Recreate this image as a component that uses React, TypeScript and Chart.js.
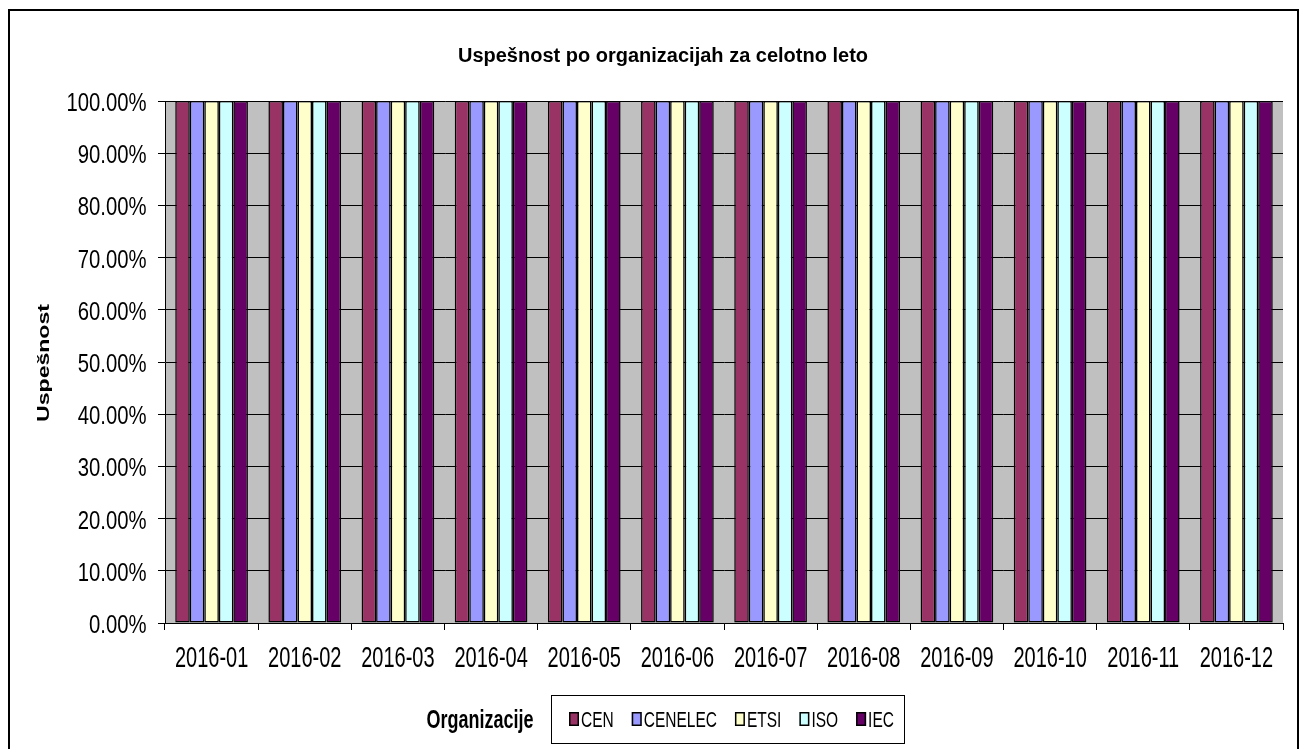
import React, { useEffect, useRef } from "react";
import { Chart, registerables } from "chart.js";

Chart.register(...registerables);

// ---- data ----
const months = [
  "2016-01", "2016-02", "2016-03", "2016-04", "2016-05", "2016-06",
  "2016-07", "2016-08", "2016-09", "2016-10", "2016-11", "2016-12",
];
const organizations = ["CEN", "CENELEC", "ETSI", "ISO", "IEC"];
const cenValues = [100, 100, 100, 100, 100, 100, 100, 100, 100, 100, 100, 100];
const cenelecValues = [100, 100, 100, 100, 100, 100, 100, 100, 100, 100, 100, 100];
const etsiValues = [100, 100, 100, 100, 100, 100, 100, 100, 100, 100, 100, 100];
const isoValues = [100, 100, 100, 100, 100, 100, 100, 100, 100, 100, 100, 100];
const iecValues = [100, 100, 100, 100, 100, 100, 100, 100, 100, 100, 100, 100];
const seriesColors = ["#993366", "#9999FF", "#FFFFCC", "#CCFFFF", "#660066"];
const yTickValues = [0, 10, 20, 30, 40, 50, 60, 70, 80, 90, 100];

const chartTitle = "Uspešnost po organizacijah za celotno leto";
const yAxisTitle = "Uspešnost";
const xAxisTitle = "Organizacije";

const SANS = '"Liberation Sans", Arial, sans-serif';

const formatPercent = (v: number) => `${Number(v).toFixed(2)}%`;

function drawStretched(
  ctx: CanvasRenderingContext2D,
  text: string,
  x: number,
  y: number,
  font: string,
  sy: number,
  align: CanvasTextAlign,
  baseline: CanvasTextBaseline,
  rotate = 0
) {
  ctx.save();
  ctx.translate(x, y);
  ctx.scale(1, sy);
  if (rotate) ctx.rotate(rotate);
  ctx.font = font;
  ctx.fillStyle = "#000";
  ctx.textAlign = align;
  ctx.textBaseline = baseline;
  ctx.fillText(text, 0, 0);
  ctx.restore();
}

const excelDecor = {
  id: "excelDecor",
  beforeDraw(chart: any) {
    const { ctx, chartArea } = chart;
    ctx.save();
    ctx.fillStyle = "#FFFFFF";
    ctx.fillRect(0, 0, chart.width, chart.height);
    ctx.fillStyle = "#C0C0C0";
    ctx.fillRect(chartArea.left, chartArea.top, chartArea.right - chartArea.left, chartArea.bottom - chartArea.top);
    ctx.restore();
  },
  afterDraw(chart: any) {
    const { ctx, chartArea } = chart;
    const xScale = chart.scales.x;
    const yScale = chart.scales.y;

    // x tick labels (from the category scale)
    xScale.ticks.forEach((t: any, i: number) => {
      const label = chart.data.labels[t.value] ?? t.label;
      const px = xScale.getPixelForTick(i);
      drawStretched(ctx, String(label), px, chartArea.bottom + 43.5, `20px ${SANS}`, 1.44, "center", "alphabetic");
    });
    // y tick labels (from the linear scale)
    yScale.ticks.forEach((t: any, i: number) => {
      const py = yScale.getPixelForTick(i);
      drawStretched(ctx, formatPercent(t.value), chartArea.left - 18.5, py + 10, `20.3px ${SANS}`, 1.25, "right", "alphabetic");
    });

    // title
    drawStretched(ctx, chartTitle, 653, 51, `bold 20px ${SANS}`, 1.05, "center", "alphabetic");
    // y axis title
    drawStretched(ctx, yAxisTitle, 35, 352, `bold 16px ${SANS}`, 1.44, "center", "middle", -Math.PI / 2);
    // x axis title
    drawStretched(ctx, xAxisTitle, 470, 717, `bold 18px ${SANS}`, 1.4, "center", "alphabetic");

    // legend box
    const boxL = 541, boxT = 684, boxW = 353, boxH = 48;
    ctx.save();
    ctx.fillStyle = "#FFFFFF";
    ctx.fillRect(boxL, boxT, boxW, boxH);
    ctx.strokeStyle = "#000";
    ctx.lineWidth = 1;
    ctx.strokeRect(boxL + 0.5, boxT + 0.5, boxW, boxH);
    const legendFont = `15.5px ${SANS}`;
    let x = boxL + 18;
    const baseY = 715.5;
    chart.data.datasets.forEach((ds: any) => {
      ctx.fillStyle = ds.backgroundColor;
      ctx.fillRect(x, 701, 10, 14);
      ctx.strokeStyle = "#000";
      ctx.lineWidth = 1.5;
      ctx.strokeRect(x + 0.75, 701.75, 8.5, 12.5);
      ctx.font = legendFont;
      const w = ctx.measureText(ds.label).width;
      drawStretched(ctx, ds.label, x + 12, baseY, legendFont, 1.4, "left", "alphabetic");
      x += 12 + w + 18;
    });
    ctx.restore();
  },
};

export default function App() {
  const canvasRef = useRef<HTMLCanvasElement | null>(null);

  useEffect(() => {
    if (!canvasRef.current) return;
    const seriesValues = [cenValues, cenelecValues, etsiValues, isoValues, iecValues];
    const chart = new Chart(canvasRef.current, {
      type: "bar",
      data: {
        labels: months,
        datasets: organizations.map((name, i) => ({
          label: name,
          data: seriesValues[i],
          backgroundColor: seriesColors[i],
          borderColor: "#000000",
          borderWidth: 1.5,
          borderSkipped: false,
          barPercentage: 1,
          categoryPercentage: 0.78,
        })),
      },
      options: {
        animation: false,
        responsive: true,
        maintainAspectRatio: false,
        devicePixelRatio: 1,
        layout: { padding: { top: 90, right: 14, left: 0, bottom: 0 } },
        plugins: {
          legend: { display: false },
          title: { display: false },
          tooltip: { enabled: false },
        },
        scales: {
          x: {
            offset: true,
            grid: {
              display: true,
              offset: true,
              drawOnChartArea: false,
              drawTicks: true,
              tickLength: 7,
              color: "#000000",
              lineWidth: 1,
            },
            border: { display: true, color: "#000000", width: 1 },
            ticks: { display: false, autoSkip: false, maxRotation: 0 },
            afterFit: (scale: any) => {
              scale.height = 128;
            },
          },
          y: {
            min: 0,
            max: 100,
            afterBuildTicks: (scale: any) => {
              scale.ticks = yTickValues.map((v) => ({ value: v }));
            },
            grid: {
              color: "#000000",
              lineWidth: 1,
              drawTicks: true,
              tickLength: 7,
            },
            border: { display: true, color: "#000000", width: 1 },
            ticks: { display: false, callback: (v: any) => formatPercent(v) },
            afterFit: (scale: any) => {
              scale.width = 155;
            },
          },
        },
      },
      plugins: [excelDecor],
    });
    return () => chart.destroy();
  }, []);

  return (
    <div
      style={{
        position: "fixed",
        left: 8,
        top: 9,
        width: 1291,
        height: 760,
        boxSizing: "border-box",
        border: "2px solid #000",
        background: "#fff",
      }}
    >
      <div style={{ position: "relative", width: 1287, height: 740 }}>
        <canvas ref={canvasRef} />
      </div>
    </div>
  );
}
